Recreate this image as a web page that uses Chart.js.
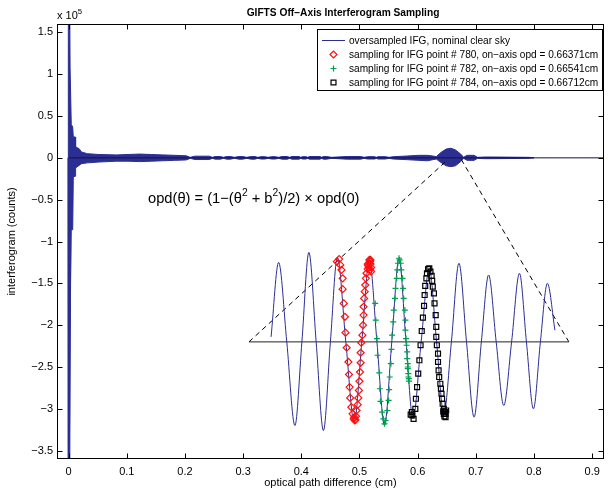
<!DOCTYPE html>
<html>
<head>
<meta charset="utf-8">
<script src="https://cdn.jsdelivr.net/npm/chart.js@4.4.0/dist/chart.umd.min.js"></script>
<style>
  html, body { margin: 0; padding: 0; background: #fff; }
  canvas { display: block; }
</style>
</head>
<body>
<canvas id="ifgChart" width="609" height="492"></canvas>
<script>
// ===================================================
// DATA (opd in cm, interferogram in units of 1e5 counts)
// ===================================================
const xTicks = [0, 0.1, 0.2, 0.3, 0.4, 0.5, 0.6, 0.7, 0.8, 0.9];
const yTicks = [-3.5, -3, -2.5, -2, -1.5, -1, -0.5, 0, 0.5, 1, 1.5];

// envelope of the oversampled IFG
const envOpd = [-0.001, -0.0005, 0.002, 0.0025, 0.004, 0.0045, 0.007, 0.008, 0.011, 0.012,
  0.018, 0.022, 0.032, 0.052, 0.082, 0.102, 0.122, 0.142, 0.162, 0.182,
  0.202, 0.209, 0.217, 0.242, 0.247, 0.252, 0.261, 0.266, 0.272, 0.278,
  0.285, 0.293, 0.299, 0.306, 0.314, 0.320, 0.325, 0.331, 0.337, 0.343,
  0.349, 0.355, 0.361, 0.367, 0.376, 0.380, 0.384, 0.396, 0.399, 0.402,
  0.408, 0.411, 0.414, 0.432, 0.435, 0.438, 0.443, 0.452, 0.479, 0.502,
  0.508, 0.514, 0.526, 0.529, 0.532, 0.544, 0.551, 0.558, 0.582, 0.602,
  0.617, 0.626, 0.632, 0.640, 0.649, 0.657, 0.665, 0.674, 0.679, 0.685,
  0.697, 0.703, 0.715, 0.727, 0.792, 0.800];
const envUpper = [0, 1.65, 1.65, 1.08, 1.08, 0.40, 0.37, 0.25, 0.25, 0.13,
  0.11, 0.07, 0.05, 0.04, 0.035, 0.04, 0.045, 0.04, 0.035, 0.03,
  0.025, 0.006, 0.02, 0.02, 0.006, 0.016, 0.016, 0.006, 0.016, 0.016,
  0.006, 0.016, 0.016, 0.006, 0.016, 0.016, 0.006, 0.014, 0.014, 0.006,
  0.014, 0.014, 0.006, 0.016, 0.016, 0.006, 0.016, 0.016, 0.006, 0.014,
  0.014, 0.006, 0.016, 0.016, 0.006, 0.016, 0.016, 0.006, 0.016, 0.016,
  0.006, 0.014, 0.014, 0.006, 0.014, 0.014, 0.006, 0.014, 0.022, 0.03,
  0.03, 0.022, 0.014, 0.065, 0.105, 0.115, 0.095, 0.045, 0.006, 0.03,
  0.03, 0.006, 0.01, 0.01, 0.006, 0];
const envLower = [0, -3.65, -3.65, -1.86, -1.86, -0.86, -0.86, -0.23, -0.22, -0.12,
  -0.09, -0.07, -0.06, -0.05, -0.04, -0.04, -0.045, -0.04, -0.035, -0.03,
  -0.025, -0.006, -0.02, -0.02, -0.006, -0.016, -0.016, -0.006, -0.016, -0.016,
  -0.006, -0.016, -0.016, -0.006, -0.016, -0.016, -0.006, -0.014, -0.014, -0.006,
  -0.014, -0.014, -0.006, -0.016, -0.016, -0.006, -0.016, -0.016, -0.006, -0.014,
  -0.014, -0.006, -0.016, -0.016, -0.006, -0.016, -0.016, -0.006, -0.016, -0.016,
  -0.006, -0.014, -0.014, -0.006, -0.014, -0.014, -0.006, -0.014, -0.022, -0.03,
  -0.035, -0.022, -0.014, -0.055, -0.095, -0.105, -0.095, -0.045, -0.006, -0.03,
  -0.03, -0.006, -0.01, -0.01, -0.006, 0];

const zeroOpd = [0, 0.92];
const zeroIfg = [0, 0];

// magnified inset of the IFG around opd 0.66 cm
const insetOpd = [0.348, 0.361, 0.375, 0.389, 0.401, 0.413, 0.4255, 0.438, 0.450, 0.462,
  0.4765, 0.491, 0.504, 0.517, 0.530, 0.543, 0.5555, 0.568, 0.580, 0.592,
  0.606, 0.620, 0.6325, 0.645, 0.658, 0.671, 0.684, 0.697, 0.7095, 0.722,
  0.735, 0.748, 0.7615, 0.775, 0.787, 0.799, 0.811, 0.823, 0.836];
const insetIfg = [-2.14, -1.25, -2.2, -3.20, -2.2, -1.13, -2.2, -3.26, -2.2, -1.19,
  -2.2, -3.16, -2.2, -1.22, -2.2, -3.20, -2.2, -1.20, -2.2, -3.12,
  -2.2, -1.32, -2.2, -3.06, -2.2, -1.26, -2.2, -3.10, -2.2, -1.40,
  -2.2, -2.96, -2.2, -1.38, -2.2, -3.00, -2.2, -1.50, -2.06];

const baseOpd = [0.31, 0.86];
const baseIfg = [-2.2, -2.2];
const leftDashOpd = [0.31, 0.652];
const leftDashIfg = [-2.2, -0.02];
const rightDashOpd = [0.675, 0.86];
const rightDashIfg = [-0.02, -2.2];

// sampling for IFG point # 780
const s780Opd = [0.461, 0.465, 0.467, 0.469, 0.471, 0.471, 0.473, 0.475, 0.476, 0.478,
  0.481, 0.482, 0.483, 0.484, 0.486, 0.488, 0.490, 0.492, 0.491, 0.493,
  0.494, 0.495, 0.497, 0.498, 0.499, 0.500, 0.501, 0.502, 0.502, 0.503,
  0.505, 0.506, 0.507, 0.507, 0.508, 0.509, 0.510, 0.511, 0.512, 0.514,
  0.515, 0.517, 0.518, 0.517, 0.519, 0.520, 0.516, 0.518, 0.520, 0.514, 0.519];
const s780Ifg = [-1.24, -1.21, -1.28, -1.34, -1.44, -1.57, -1.74, -1.90, -2.09, -2.27,
  -2.44, -2.59, -2.74, -2.87, -2.98, -3.06, -3.12, -3.14, -3.10, -3.13,
  -3.09, -3.02, -2.95, -2.87, -2.78, -2.67, -2.56, -2.45, -2.33, -2.21,
  -2.12, -2.00, -1.88, -1.78, -1.68, -1.60, -1.52, -1.44, -1.38, -1.33,
  -1.29, -1.26, -1.24, -1.22, -1.27, -1.31, -1.31, -1.34, -1.36, -1.27, -1.22];

// sampling for IFG point # 782
const s782Opd = [0.527, 0.528, 0.530, 0.531, 0.534, 0.535, 0.536, 0.539, 0.541, 0.543,
  0.545, 0.548, 0.550, 0.551, 0.552, 0.554, 0.555, 0.556, 0.558, 0.559,
  0.561, 0.562, 0.564, 0.565, 0.566, 0.568, 0.569, 0.571, 0.572, 0.574,
  0.575, 0.576, 0.578, 0.579, 0.579, 0.580, 0.581, 0.582, 0.582, 0.583,
  0.583, 0.584, 0.585, 0.585, 0.584, 0.583];
const s782Ifg = [-1.74, -1.94, -2.16, -2.36, -2.57, -2.76, -2.91, -3.04, -3.12, -3.18,
  -3.14, -3.02, -2.90, -2.77, -2.62, -2.46, -2.29, -2.12, -1.96, -1.82,
  -1.68, -1.56, -1.44, -1.34, -1.26, -1.20, -1.22, -1.26, -1.34, -1.44,
  -1.56, -1.68, -1.82, -1.94, -2.06, -2.16, -2.24, -2.32, -2.40, -2.46,
  -2.52, -2.58, -2.64, -2.67, -2.62, -2.50];

// sampling for IFG point # 784
const s784Opd = [0.588, 0.590, 0.591, 0.593, 0.596, 0.597, 0.599, 0.601, 0.603, 0.605,
  0.607, 0.609, 0.611, 0.612, 0.613, 0.615, 0.616, 0.618, 0.620, 0.622,
  0.624, 0.625, 0.626, 0.628, 0.629, 0.631, 0.632, 0.632, 0.633, 0.635,
  0.635, 0.636, 0.637, 0.639, 0.640, 0.641, 0.642, 0.643, 0.645, 0.647,
  0.648, 0.645, 0.649, 0.646, 0.648, 0.644];
const s784Ifg = [-3.07, -3.04, -3.08, -3.12, -3.00, -2.88, -2.74, -2.58, -2.42, -2.24,
  -2.07, -1.91, -1.77, -1.64, -1.53, -1.44, -1.38, -1.33, -1.32, -1.36,
  -1.41, -1.47, -1.54, -1.62, -1.74, -1.88, -2.02, -2.14, -2.24, -2.34,
  -2.44, -2.54, -2.62, -2.70, -2.76, -2.82, -2.88, -2.94, -3.00, -3.04,
  -3.06, -3.06, -3.02, -3.09, -3.10, -3.03];

const legendLabels = [
  'oversampled IFG, nominal clear sky',
  'sampling for IFG point # 780, on\u2212axis opd = 0.66371cm',
  'sampling for IFG point # 782, on\u2212axis opd = 0.66541cm',
  'sampling for IFG point # 784, on\u2212axis opd = 0.66712cm'
];

// ===================================================
// STYLE
// ===================================================
const FONT = '"Liberation Sans", Arial, Helvetica, sans-serif';
const NAVY = '#2b2e92';
const RED = '#ff1010';
const GREEN = '#00a050';

Chart.defaults.font.family = FONT;
Chart.defaults.font.size = 11;
Chart.defaults.color = '#000';

const toPts = (xs, ys) => xs.map((x, i) => ({ x: x, y: ys[i] }));
const minus = v => (v < 0 ? '\u2212' : '') + Math.abs(v);

function drawRich(ctx, parts, x, y, size) {
  let cx = x;
  parts.forEach(p => {
    if (p.sup) {
      ctx.font = (size * 0.7) + 'px ' + FONT;
      ctx.fillText(p.t, cx, y - size * 0.45);
    } else {
      ctx.font = size + 'px ' + FONT;
      ctx.fillText(p.t, cx, y);
    }
    cx += ctx.measureText(p.t).width;
  });
}

// ===================================================
// FRAME, TICKS, TITLE, LEGEND, ANNOTATION
// ===================================================
const decorPlugin = {
  id: 'decor',
  afterDraw(chart) {
    const { ctx, chartArea: a, scales: { x, y } } = chart;
    ctx.save();

    // axes box + inward ticks (top/bottom, left/right)
    ctx.strokeStyle = '#000';
    ctx.lineWidth = 1;
    const L = Math.round(a.left) + 0.5, R = Math.round(a.right) - 0.5;
    const T = Math.round(a.top) + 0.5, B = Math.round(a.bottom) - 0.5;
    ctx.strokeRect(L, T, R - L, B - T);
    ctx.beginPath();
    xTicks.forEach(v => {
      const px = Math.round(x.getPixelForValue(v)) + 0.5;
      ctx.moveTo(px, B); ctx.lineTo(px, B - 5);
      ctx.moveTo(px, T); ctx.lineTo(px, T + 5);
    });
    yTicks.forEach(v => {
      const py = Math.round(y.getPixelForValue(v)) + 0.5;
      ctx.moveTo(L, py); ctx.lineTo(L + 5, py);
      ctx.moveTo(R, py); ctx.lineTo(R - 5, py);
    });
    ctx.stroke();

    ctx.fillStyle = '#000';
    ctx.textBaseline = 'alphabetic';

    // title
    ctx.font = 'bold 10.2px ' + FONT;
    ctx.textAlign = 'center';
    ctx.fillText('GIFTS Off\u2212Axis Interferogram Sampling', 343, 16);

    // exponent label
    ctx.textAlign = 'left';
    drawRich(ctx, [{ t: 'x 10' }, { t: '5', sup: true }], 57, 19, 11);

    // formula
    drawRich(ctx, [
      { t: 'opd(\u03b8) = (1\u2212(\u03b8' }, { t: '2', sup: true },
      { t: ' + b' }, { t: '2', sup: true },
      { t: ')/2) \u00d7 opd(0)' }
    ], 148, 203, 14.7);

    // legend
    const lg = { x: 317, y: 29, w: 285, h: 61 };
    ctx.fillStyle = '#fff';
    ctx.fillRect(lg.x, lg.y, lg.w, lg.h);
    ctx.strokeStyle = '#000';
    ctx.strokeRect(lg.x + 0.5, lg.y + 0.5, lg.w, lg.h);
    const rows = [40, 54, 68, 82];
    ctx.strokeStyle = NAVY;
    ctx.beginPath();
    ctx.moveTo(322, rows[0] + 0.5); ctx.lineTo(345, rows[0] + 0.5);
    ctx.stroke();
    const marks = [
      { style: 'rectRot', color: RED, r: 3.5 },
      { style: 'cross', color: GREEN, r: 3 },
      { style: 'rect', color: '#000', r: 3.5 }
    ];
    marks.forEach((m, i) => {
      ctx.strokeStyle = m.color;
      ctx.fillStyle = 'rgba(0,0,0,0)';
      ctx.lineWidth = 1.2;
      Chart.helpers.drawPoint(ctx, { pointStyle: m.style, radius: m.r, borderWidth: 1.2, rotation: 0 }, 333.5, rows[i + 1] + 0.5);
    });
    ctx.fillStyle = '#000';
    ctx.font = '10.1px ' + FONT;
    ctx.textBaseline = 'middle';
    legendLabels.forEach((t, i) => ctx.fillText(t, 349, rows[i] + 1));

    ctx.restore();
  }
};

// ===================================================
// CHART
// ===================================================
const lineSet = (label, xs, ys, extra) => Object.assign({
  label: label,
  data: toPts(xs, ys),
  borderWidth: 1,
  pointRadius: 0,
  fill: false,
  tension: 0,
  clip: 0
}, extra);

const markSet = (label, xs, ys, style, color, r) => ({
  label: label,
  data: toPts(xs, ys),
  showLine: false,
  pointStyle: style,
  pointRadius: r,
  pointBorderColor: color,
  pointBackgroundColor: 'rgba(0,0,0,0)',
  pointBorderWidth: 1.2,
  clip: 0,
  order: 1
});

new Chart(document.getElementById('ifgChart'), {
  type: 'line',
  data: {
    datasets: [
      lineSet('env upper', envOpd, envUpper, { borderColor: NAVY, backgroundColor: NAVY, fill: '+1', order: 10 }),
      lineSet('env lower', envOpd, envLower, { borderColor: NAVY, order: 10 }),
      lineSet('zero', zeroOpd, zeroIfg, { borderColor: '#14143c', order: 9 }),
      lineSet('base', baseOpd, baseIfg, { borderColor: '#222', order: 5 }),
      lineSet('dash left', leftDashOpd, leftDashIfg, { borderColor: '#000', borderDash: [5, 4], order: 5 }),
      lineSet('dash right', rightDashOpd, rightDashIfg, { borderColor: '#000', borderDash: [5, 4], order: 5 }),
      lineSet('inset', insetOpd, insetIfg, { borderColor: NAVY, cubicInterpolationMode: 'monotone', order: 3 }),
      markSet('780', s780Opd, s780Ifg, 'rectRot', RED, 3.5),
      markSet('782', s782Opd, s782Ifg, 'cross', GREEN, 3),
      markSet('784', s784Opd, s784Ifg, 'rect', '#000', 3.5)
    ]
  },
  options: {
    responsive: false,
    devicePixelRatio: 1,
    animation: false,
    events: [],
    layout: { padding: { left: 0, right: 2, top: 24, bottom: 0 } },
    plugins: { legend: { display: false }, tooltip: { enabled: false }, title: { display: false } },
    scales: {
      x: {
        type: 'linear',
        min: -0.02,
        max: 0.92,
        afterBuildTicks: s => { s.ticks = xTicks.map(v => ({ value: v })); },
        afterFit: s => { s.height = 33; },
        grid: { display: false, drawTicks: false },
        border: { display: false },
        ticks: { padding: 6, maxRotation: 0, autoSkip: false, callback: v => String(v) },
        title: { display: true, text: 'optical path difference (cm)', padding: { top: 0, bottom: 2 } }
      },
      y: {
        type: 'linear',
        min: -3.6,
        max: 1.6,
        afterBuildTicks: s => { s.ticks = yTicks.map(v => ({ value: v })); },
        afterFit: s => { s.width = 57; },
        grid: { display: false, drawTicks: false },
        border: { display: false },
        ticks: { padding: 4, autoSkip: false, callback: v => minus(v) },
        title: { display: true, text: 'interferogram (counts)', padding: { top: 5, bottom: 0 } }
      }
    }
  },
  plugins: [decorPlugin]
});
</script>
</body>
</html>
